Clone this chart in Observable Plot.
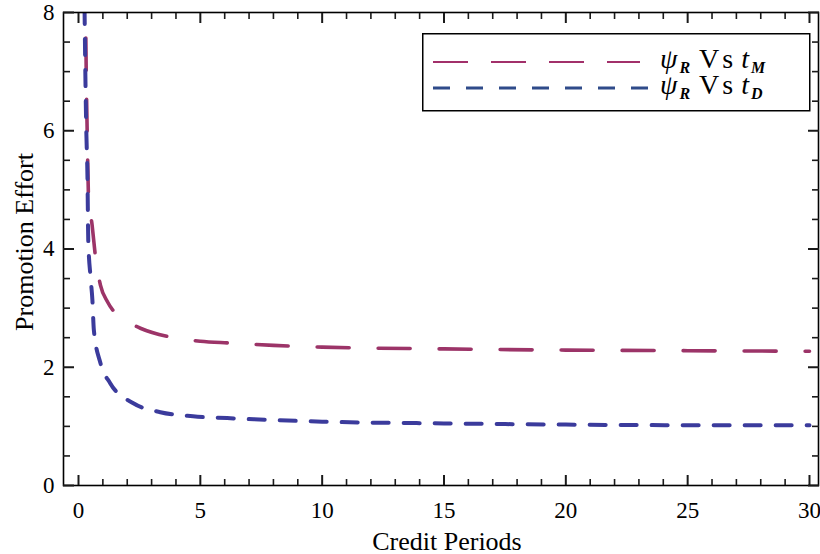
<!DOCTYPE html>
<html>
<head>
<meta charset="utf-8">
<script src="https://cdn.jsdelivr.net/npm/d3@7"></script>
<script src="https://cdn.jsdelivr.net/npm/@observablehq/plot@0.6"></script>
<style>
  html, body { margin: 0; padding: 0; background: #fff; }
  #wrap { position: relative; width: 820px; height: 554px; overflow: hidden; }
  #legend { position: absolute; left: 422px; top: 33px; }
</style>
</head>
<body>
<div id="wrap"></div>
<script>
// ψ_R vs t_M (long dashes, crimson)
const tM = [0.27, 0.29, 0.32, 0.36, 0.41, 0.56, 0.70, 0.90, 1.20, 1.52, 2.00, 2.54, 3.77, 5.00, 6.20, 8.00, 10.0, 15.0, 20.0, 25.0, 30.0];
const psiM = [8.6, 8.0, 6.9, 5.9, 4.9, 4.4, 3.86, 3.39, 3.10, 2.91, 2.77, 2.66, 2.51, 2.44, 2.41, 2.37, 2.34, 2.31, 2.29, 2.28, 2.27];
// ψ_R vs t_D (short dashes, blue)
const tD = [0.23, 0.25, 0.28, 0.32, 0.37, 0.40, 0.50, 0.57, 0.63, 0.90, 1.30, 2.25, 3.36, 4.70, 6.10, 7.20, 10.0, 15.0, 20.0, 25.0, 30.0];
const psiD = [8.6, 8.0, 7.0, 6.0, 5.17, 4.15, 3.50, 3.14, 2.63, 2.07, 1.73, 1.39, 1.24, 1.17, 1.14, 1.12, 1.08, 1.05, 1.03, 1.02, 1.02];

const xMajor = [0, 5, 10, 15, 20, 25, 30];
const xMinor = d3.range(0, 31, 1).filter(v => v % 5 !== 0);
const yMajor = [0, 2, 4, 6, 8];
const yMinor = d3.range(0, 8.01, 0.5).filter(v => v % 2 !== 0);

const seriesM = tM.map((t, i) => ({t, v: psiM[i]}));
const seriesD = tD.map((t, i) => ({t, v: psiD[i]}));

const W = 820, H = 554, mL = 63, mR = 2, mT = 12, mB = 69;
const font = "Liberation Serif";
const tickCol = "#1a1a1a";

// inward (Mathematica-style) ticks on all four sides, no labels
const tickAxes = [
  Plot.axisX(xMajor, {anchor: "bottom", tickSize: -10, fill: null, stroke: tickCol, strokeWidth: 2, label: null}),
  Plot.axisX(xMinor, {anchor: "bottom", tickSize: -6, fill: null, stroke: tickCol, strokeWidth: 1.6, label: null}),
  Plot.axisX(xMajor, {anchor: "top", tickSize: -10, fill: null, stroke: tickCol, strokeWidth: 2, label: null}),
  Plot.axisX(xMinor, {anchor: "top", tickSize: -6, fill: null, stroke: tickCol, strokeWidth: 1.6, label: null}),
  Plot.axisY(yMajor, {anchor: "left", tickSize: -11, fill: null, stroke: tickCol, strokeWidth: 2, label: null}),
  Plot.axisY(yMinor, {anchor: "left", tickSize: -7, fill: null, stroke: tickCol, strokeWidth: 1.6, label: null}),
  Plot.axisY(yMajor, {anchor: "right", tickSize: -11, fill: null, stroke: tickCol, strokeWidth: 2, label: null}),
  Plot.axisY(yMinor, {anchor: "right", tickSize: -7, fill: null, stroke: tickCol, strokeWidth: 1.6, label: null})
];

const plot = Plot.plot({
  width: W, height: H,
  marginLeft: mL, marginRight: mR, marginTop: mT, marginBottom: mB,
  style: {fontFamily: font, background: "white", color: "black"},
  x: {domain: [-0.6156, 30.37]},
  y: {domain: [0, 8]},
  marks: [
    Plot.line(seriesM, {x: "t", y: "v", stroke: "#9c3468", strokeWidth: 3.6, strokeDasharray: "32 29", curve: "monotone-x", clip: true}),
    Plot.line(seriesD, {x: "t", y: "v", stroke: "#3b3b9c", strokeWidth: 4, strokeDasharray: "16 15", curve: "monotone-x", clip: true}),
    Plot.frame({stroke: "black", strokeWidth: 1.6}),
    ...tickAxes,
    Plot.axisX(xMajor, {tickSize: 0, tickPadding: 16, fontSize: 23, fill: "black", label: null, tickFormat: d3.format("d")}),
    Plot.axisY(yMajor, {tickSize: 0, tickPadding: 9, fontSize: 23, fill: "black", label: null, tickFormat: d3.format("d")}),
    Plot.text(["Credit Periods"], {frameAnchor: "bottom", dx: 6, dy: 64, lineAnchor: "bottom", textAnchor: "middle", fontSize: 26, fill: "black"}),
    Plot.text(["Promotion Effort"], {frameAnchor: "left", rotate: -90, dx: -31, dy: -7, lineAnchor: "bottom", textAnchor: "middle", fontSize: 26, fill: "black"})
  ]
});

const wrap = document.getElementById("wrap");
wrap.appendChild(plot);

// legend overlay (inside the plot frame, top right)
const legendItems = [
  {color: "#a2306a", width: 2, dash: "35 23", x2: 218, sub: "M"},
  {color: "#2f4b8a", width: 3, dash: "17 16", x2: 226, sub: "D"}
];
const lg = d3.create("svg").attr("id", "legend").attr("width", 390).attr("height", 80)
  .style("font-family", font);
lg.append("rect").attr("x", 0.75).attr("y", 0.75).attr("width", 387).attr("height", 77)
  .attr("fill", "white").attr("stroke", "black").attr("stroke-width", 1.5);
legendItems.forEach((it, i) => {
  const yy = 29 + i * 26;
  lg.append("line").attr("x1", 11).attr("x2", it.x2).attr("y1", yy).attr("y2", yy)
    .attr("stroke", it.color).attr("stroke-width", it.width).attr("stroke-dasharray", it.dash);
  const t = lg.append("text").attr("x", 238).attr("y", yy + 6).attr("font-size", 28).attr("fill", "black");
  t.append("tspan").attr("font-style", "italic").text("ψ");
  t.append("tspan").attr("font-style", "italic").attr("font-weight", "bold").attr("font-size", 16).attr("dx", 2).attr("dy", 5).text("R");
  t.append("tspan").attr("dy", -5).attr("dx", 9).attr("letter-spacing", 3).text("Vs");
  t.append("tspan").attr("dx", 5).attr("font-style", "italic").text("t");
  t.append("tspan").attr("font-style", "italic").attr("font-weight", "bold").attr("font-size", 16).attr("dx", 2).attr("dy", 5).text(it.sub);
});
wrap.appendChild(lg.node());
</script>
</body>
</html>
